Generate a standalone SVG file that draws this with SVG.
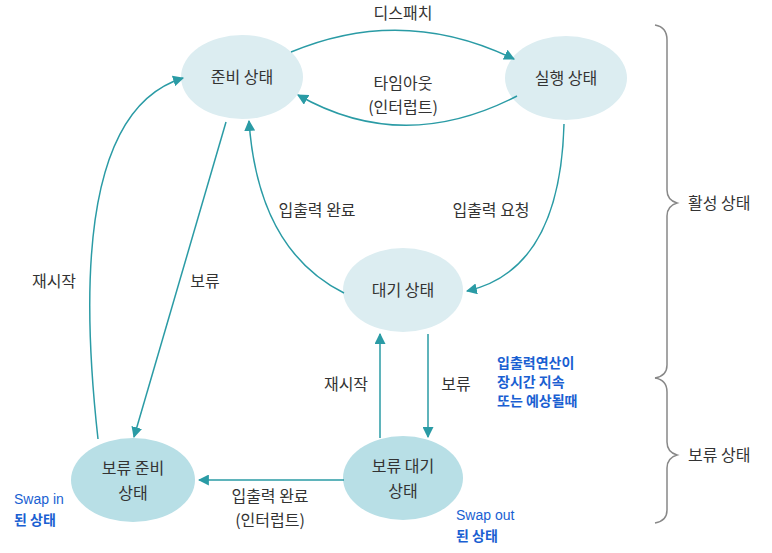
<svg xmlns="http://www.w3.org/2000/svg" width="772" height="553" viewBox="0 0 772 553">
<defs>
<marker id="ah" viewBox="0 0 10 10" refX="9" refY="5" markerWidth="11" markerHeight="11" markerUnits="userSpaceOnUse" orient="auto">
<path d="M0,0 L10,5 L0,10 Z" fill="#2a9ba5"/>
</marker>
<style>
.n1{fill:#dcedf1}
.n2{fill:#b8dfe6}
.t{font-family:"Noto Sans CJK KR","Noto Sans",sans-serif;font-size:16px;fill:#333;text-anchor:middle}
.c{fill:none;stroke:#2a9ba5;stroke-width:1.5;marker-end:url(#ah)}
.b{font-family:"Noto Sans CJK KR","Noto Sans",sans-serif;font-size:14px;fill:#1a5fd2;font-weight:bold}
.s{font-family:"Liberation Sans","Noto Sans CJK KR",sans-serif;font-size:14px;fill:#1a5fd2}
.br{fill:none;stroke:#888;stroke-width:1.5}
</style>
</defs>
<rect width="772" height="553" fill="#fff"/>
<g id="ready"><ellipse class="n1" cx="242" cy="77" rx="61" ry="42"/><text class="t" x="242" y="83">준비 상태</text></g>
<g id="running"><ellipse class="n1" cx="566" cy="78" rx="61" ry="42"/><text class="t" x="566" y="84">실행 상태</text></g>
<g id="waiting"><ellipse class="n1" cx="403" cy="290" rx="60" ry="42"/><text class="t" x="403" y="296">대기 상태</text></g>
<g id="susp-ready"><ellipse class="n2" cx="133" cy="480" rx="62" ry="42"/><text class="t" x="133" y="474">보류 준비</text><text class="t" x="133" y="499">상태</text></g>
<g id="susp-wait"><ellipse class="n2" cx="403" cy="478" rx="60" ry="42"/><text class="t" x="403" y="472">보류 대기</text><text class="t" x="403" y="497">상태</text></g>
<g id="connectors">
<path class="c" d="M291,52 Q403,5 514,59"/>
<path class="c" d="M517,96 Q403,155 298,95"/>
<path class="c" d="M564,124 Q560,270 467,291"/>
<path class="c" d="M344,293 Q258,250 249,121"/>
<path class="c" d="M226,122 L134,437"/>
<path class="c" d="M98,439 Q62,115 183,78"/>
<path class="c" d="M380,438 L380,334"/>
<path class="c" d="M428,334 L428,437"/>
<path class="c" d="M344,480 L199,480"/>
</g>
<g id="labels">
<text class="t" x="403" y="19">디스패치</text>
<text class="t" x="403" y="89">타임아웃</text>
<text class="t" x="403" y="113">(인터럽트)</text>
<text class="t" x="491" y="216">입출력 요청</text>
<text class="t" x="317" y="216">입출력 완료</text>
<text class="t" x="205" y="287">보류</text>
<text class="t" x="54" y="287">재시작</text>
<text class="t" x="346" y="390">재시작</text>
<text class="t" x="456" y="390">보류</text>
<text class="t" x="270" y="502">입출력 완료</text>
<text class="t" x="270" y="526">(인터럽트)</text>
<text class="b" x="497" y="368">입출력연산이</text>
<text class="b" x="497" y="387">장시간 지속</text>
<text class="b" x="497" y="406">또는 예상될때</text>
<text class="s" x="14" y="504">Swap in</text>
<text class="b" x="14" y="525">된 상태</text>
<text class="s" x="456" y="520">Swap out</text>
<text class="b" x="456" y="541">된 상태</text>
</g>
<g id="braces">
<path class="br" d="M655,25 Q667,27 667,40 L667,190 Q667,200 677,203 Q667,206 667,216 L667,365 Q667,376 655,378"/>
<path class="br" d="M655,378 Q667,380 667,392 L667,442 Q667,452 677,455 Q667,458 667,468 L667,510 Q667,521 655,523"/>
<text class="t" x="688" y="209" style="text-anchor:start">활성 상태</text>
<text class="t" x="688" y="461" style="text-anchor:start">보류 상태</text>
</g>
</svg>
